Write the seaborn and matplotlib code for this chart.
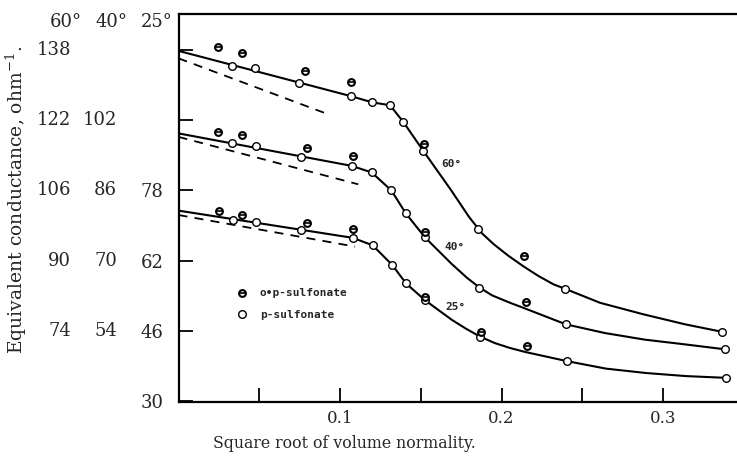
# Condutancia equivalente vs raiz da normalidade - tres temperaturas
import pandas as pd
import matplotlib
matplotlib.use("Agg")
import matplotlib.pyplot as plt
import matplotlib.transforms as mtransforms
from matplotlib.lines import Line2D
from matplotlib.legend_handler import HandlerTuple
import seaborn as sns

# -----------------------------------------------
# 1. DADOS
# -----------------------------------------------

# deslocamento entre as escalas da esquerda (60 e 40 graus relativas a 25 graus)
desloc = {"60°": 28, "40°": 8, "25°": 0}

# p-sulfonate (circulos abertos)
x_p_60 = [0.0329, 0.0474, 0.0748, 0.1066, 0.1196, 0.1310, 0.1392, 0.1516, 0.1856, 0.2393, 0.3364]
y_p_60 = [134.4, 133.9, 130.4, 127.5, 126.1, 125.4, 121.6, 115.0, 97.3, 83.6, 73.8]
x_p_40 = [0.0333, 0.0480, 0.0757, 0.1072, 0.1196, 0.1318, 0.1407, 0.1526, 0.1863, 0.2398, 0.3384]
y_p_40 = [96.7, 96.2, 93.7, 91.6, 90.1, 86.0, 80.8, 75.3, 63.7, 55.5, 49.8]
x_p_25 = [0.0336, 0.0478, 0.0759, 0.1079, 0.1202, 0.1324, 0.1409, 0.1526, 0.1867, 0.2406, 0.3390]
y_p_25 = [71.2, 70.7, 69.0, 67.2, 65.5, 61.0, 56.8, 53.0, 44.7, 39.1, 35.3]

# o-p-sulfonate
x_op_60 = [0.0243, 0.0391, 0.0783, 0.1068, 0.1517, 0.2141]
y_op_60 = [138.7, 137.3, 133.2, 130.7, 116.5, 91.0]
x_op_40 = [0.0246, 0.0395, 0.0798, 0.1079, 0.1526, 0.2152]
y_op_40 = [99.3, 98.6, 95.7, 93.9, 76.6, 60.5]
x_op_25 = [0.0253, 0.0395, 0.0798, 0.1082, 0.1526, 0.1871, 0.2156]
y_op_25 = [73.4, 72.5, 70.5, 69.2, 53.8, 45.8, 42.6]

# curvas continuas (pontos lidos ao longo de cada curva)
x_c_60 = [0, 0.1066, 0.1196, 0.1310, 0.1392, 0.1516, 0.1687, 0.1800, 0.1880, 0.1950, 0.2043,
          0.2136, 0.2229, 0.2322, 0.2393, 0.2610, 0.2876, 0.3136, 0.3364]
y_c_60 = [137.8, 127.5, 126.1, 125.4, 121.6, 115.0, 106.1, 99.9, 96.2, 93.8, 91.1,
          88.7, 86.5, 84.6, 83.6, 80.4, 77.8, 75.5, 73.8]
x_c_40 = [0, 0.1072, 0.1196, 0.1318, 0.1407, 0.1526, 0.1693, 0.1786, 0.1863, 0.1941,
          0.2053, 0.2146, 0.2398, 0.2641, 0.2888, 0.3142, 0.3384]
y_c_40 = [99.0, 91.6, 90.1, 86.0, 80.8, 75.3, 69.2, 66.1, 63.9, 62.1,
          60.4, 59.1, 55.5, 53.5, 52.0, 50.9, 49.8]
x_c_25 = [0, 0.1079, 0.1202, 0.1324, 0.1409, 0.1526, 0.1693, 0.1780, 0.1867, 0.1960,
          0.2053, 0.2146, 0.2406, 0.2647, 0.2895, 0.3142, 0.3390]
y_c_25 = [73.4, 67.2, 65.5, 61.0, 56.8, 53.0, 48.5, 46.5, 44.7, 43.2,
          42.1, 41.2, 39.1, 37.4, 36.4, 35.7, 35.3]

# retas tracejadas (limite)
x_t_60 = [0, 0.0938]
y_t_60 = [136.1, 123.2]
x_t_40 = [0, 0.1113]
y_t_40 = [98.2, 87.4]
x_t_25 = [0, 0.1093]
y_t_25 = [72.4, 65.2]

# rotulos do eixo y (uma coluna por temperatura)
ticks_25 = [30, 46, 62, 78, 94, 110]
rot_25 = ["30", "46", "62", "78", "", ""]
rot_40 = ["", "54", "70", "86", "102", ""]
rot_60 = ["", "74", "90", "106", "122", "138"]


def monta(series):
    linhas = []
    for temp, xs, ys in series:
        for x, y in zip(xs, ys):
            linhas.append({"x": x, "y": y - desloc[temp], "temp": temp})
    return pd.DataFrame(linhas)


df_p = monta([("60°", x_p_60, y_p_60), ("40°", x_p_40, y_p_40), ("25°", x_p_25, y_p_25)])
df_op = monta([("60°", x_op_60, y_op_60), ("40°", x_op_40, y_op_40), ("25°", x_op_25, y_op_25)])
df_c = monta([("60°", x_c_60, y_c_60), ("40°", x_c_40, y_c_40), ("25°", x_c_25, y_c_25)])
df_t = monta([("60°", x_t_60, y_t_60), ("40°", x_t_40, y_t_40), ("25°", x_t_25, y_t_25)])

# -----------------------------------------------
# 2. GRAFICO
# -----------------------------------------------

sns.set_style("ticks")
plt.rcParams["font.family"] = ["DejaVu Serif"]
plt.rcParams["mathtext.fontset"] = "dejavuserif"

fig = plt.figure(figsize=(7.37, 4.62), dpi=100)
ax = fig.add_axes([0.2422, 0.1299, 0.7578, 0.8398])

sns.lineplot(data=df_c, x="x", y="y", units="temp", estimator=None, sort=False,
             color="black", lw=1.5, ax=ax)
sns.lineplot(data=df_t, x="x", y="y", units="temp", estimator=None, sort=False,
             color="black", lw=1.3, ax=ax)
for ln in ax.lines[-3:]:
    ln.set_dashes((5, 4))
sns.scatterplot(data=df_p, x="x", y="y", marker="o", s=30, color="white",
                edgecolor="black", linewidth=1.0, zorder=4, ax=ax)
# o-p-sulfonate: circulo com barra horizontal
sns.scatterplot(data=df_op, x="x", y="y", marker="o", s=24, color="white",
                edgecolor="black", linewidth=1.5, zorder=4, ax=ax)
sns.scatterplot(data=df_op, x="x", y="y", marker="_", s=22, color="black",
                linewidth=1.2, zorder=5, ax=ax)

# rotulos das curvas
fonte_mono = dict(family="DejaVu Sans Mono", fontweight="bold", fontsize=8)
ax.text(0.1692, 84.0, "60°", ha="center", va="center", **fonte_mono)
ax.text(0.1712, 65.2, "40°", ha="center", va="center", **fonte_mono)
ax.text(0.1712, 51.5, "25°", ha="center", va="center", **fonte_mono)

# legenda
h_op_c = Line2D([], [], ls="none", marker="o", ms=4.9, mfc="white", mec="black", mew=1.5)
h_op_b = Line2D([], [], ls="none", marker="_", ms=4.7, color="black", mew=1.2)
h_p = Line2D([], [], ls="none", marker="o", ms=5.5, mfc="white", mec="black", mew=1.0)
leg = ax.legend([(h_op_c, h_op_b), h_p], ["o•p-sulfonate", "p-sulfonate"],
                handler_map={tuple: HandlerTuple(ndivide=1)}, loc="center left",
                bbox_to_anchor=(0.094, 0.2526), frameon=False, handlelength=1.0,
                handletextpad=1.1, labelspacing=1.0, borderpad=0,
                prop={"family": "DejaVu Sans Mono", "weight": "bold", "size": 8})

# eixos
ax.set_xlim(0, 0.3458)
ax.set_ylim(29.8, 118.2)
ax.set_xticks([0.05, 0.1, 0.15, 0.2, 0.25, 0.3])
ax.set_xticklabels(["", "0.1", "", "0.2", "", "0.3"], fontsize=12)
ax.set_yticks(ticks_25)
ax.set_yticklabels(rot_25, fontsize=13)
ax.tick_params(axis="both", direction="in", length=10, width=1.3, color="black")
ax.tick_params(axis="y", pad=11)
ax.tick_params(axis="x", pad=6)
ax.spines["right"].set_visible(False)
for lado in ["left", "bottom", "top"]:
    ax.spines[lado].set_color("black")
    ax.spines[lado].set_linewidth(1.6)

trans = mtransforms.blended_transform_factory(fig.transFigure, ax.transData)
for v, r40, r60 in zip(ticks_25, rot_40, rot_60):
    ax.text(117 / 737, v, r40, transform=trans, ha="right", va="center", fontsize=13)
    ax.text(71 / 737, v, r60, transform=trans, ha="right", va="center", fontsize=13)

# cabecalho das escalas
for txt, xr in [("60°", 82), ("40°", 128), ("25°", 173)]:
    fig.text(xr / 737, 1 - 22 / 462, txt, ha="right", va="center", fontsize=13)

ax.set_xlabel("Square root of volume normality.", fontsize=11.3)
ax.xaxis.set_label_coords(0.2963, -0.085)
ax.set_ylabel("Equivalent conductance, ohm$^{-1}$.", fontsize=13.5)
ax.yaxis.set_label_coords(-0.268, 0.52)

fig.savefig("out.png", dpi=100)
